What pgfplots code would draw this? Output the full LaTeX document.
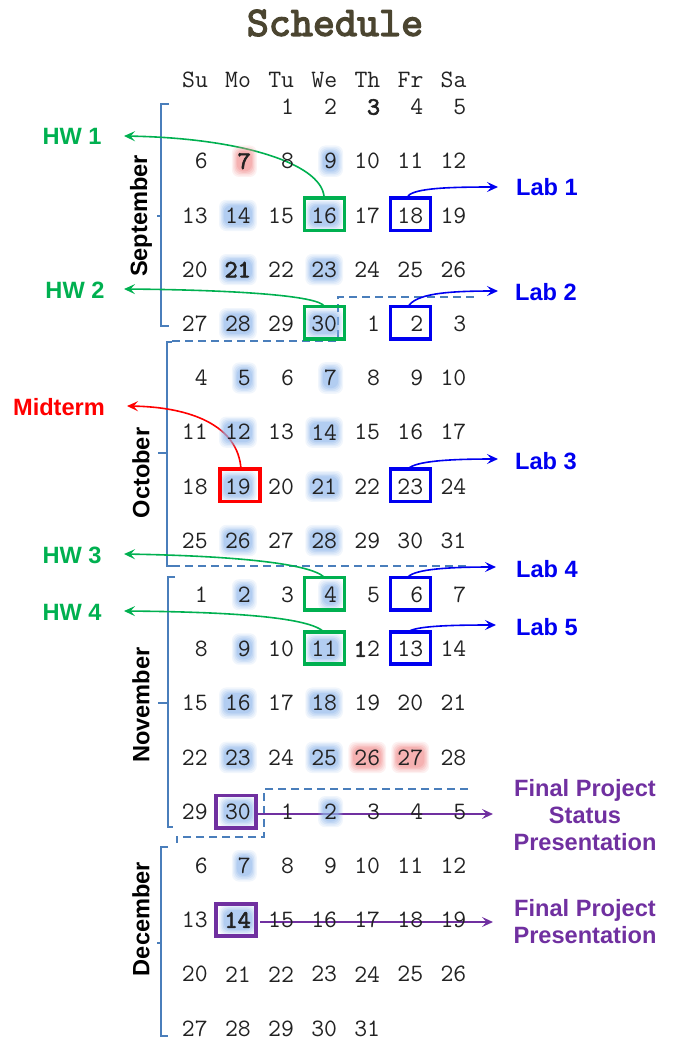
\documentclass[border=0pt]{standalone}
\usepackage{fontspec}
\setsansfont{Liberation Sans}
\newfontfamily\monobold{lmmono10-regular.otf}[FakeBold=2.6]
\newfontfamily\monotitle{lmmono10-regular.otf}[FakeBold=3.2]
\usepackage{pgfplots}
\pgfplotsset{compat=1.18}
\usepackage{pgfplotstable}
\usetikzlibrary{arrows.meta}

\definecolor{hlblue}{HTML}{8FB6EA}
\definecolor{hlred}{HTML}{F08E8E}
\definecolor{cgreen}{HTML}{00B050}
\definecolor{cblue}{HTML}{0000F0}
\definecolor{cred}{HTML}{FF0000}
\definecolor{cpurple}{HTML}{7030A0}
\definecolor{bracecol}{HTML}{4A7EBB}
\definecolor{titlecol}{HTML}{4B4530}
\definecolor{numcol}{HTML}{222222}

\newcommand\numfont{\fontsize{12.5}{14}\selectfont\ttfamily}
\newcommand\numboldfont{\fontsize{12.5}{14}\selectfont\monobold}
\newcommand\labfont{\fontsize{11.8}{13.5}\selectfont\sffamily\bfseries}

% days in normal weight: row, column (0=Su), day
\pgfplotstableread{
r c d
0 2 1
0 3 2
0 5 4
0 6 5
1 0 6
1 2 8
1 3 9
1 4 10
1 5 11
1 6 12
2 0 13
2 1 14
2 2 15
2 3 16
2 4 17
2 5 18
2 6 19
3 0 20
3 2 22
3 3 23
3 4 24
3 5 25
3 6 26
4 0 27
4 1 28
4 2 29
4 3 30
4 4 1
4 5 2
4 6 3
5 0 4
5 1 5
5 2 6
5 3 7
5 4 8
5 5 9
5 6 10
6 0 11
6 1 12
6 2 13
6 3 14
6 4 15
6 5 16
6 6 17
7 0 18
7 1 19
7 2 20
7 3 21
7 4 22
7 5 23
7 6 24
8 0 25
8 1 26
8 2 27
8 3 28
8 4 29
8 5 30
8 6 31
9 0 1
9 1 2
9 2 3
9 3 4
9 4 5
9 5 6
9 6 7
10 0 8
10 1 9
10 2 10
10 3 11
10 4 2
10 5 13
10 6 14
11 0 15
11 1 16
11 2 17
11 3 18
11 4 19
11 5 20
11 6 21
12 0 22
12 1 23
12 2 24
12 3 25
12 4 26
12 5 27
12 6 28
13 0 29
13 1 30
13 2 1
13 3 2
13 4 3
13 5 4
13 6 5
14 0 6
14 1 7
14 2 8
14 3 9
14 4 10
14 5 11
14 6 12
15 0 13
15 2 15
15 3 16
15 4 17
15 5 18
15 6 19
16 0 20
16 1 21
16 2 22
16 3 23
16 4 24
16 5 25
16 6 26
17 0 27
17 1 28
17 2 29
17 3 30
17 4 31
}\daysnormal

% days in bold
\pgfplotstableread{
r c d
0 4 3
1 1 7
3 1 21
10 3.6955 1
15 1 14
}\daysbold

% blue highlighted days
\pgfplotstableread{
r c d
1 3 9
2 1 14
2 3 16
3 1 21
3 3 23
4 1 28
4 3 30
5 1 5
5 3 7
6 1 12
6 3 14
7 1 19
7 3 21
8 1 26
8 3 28
9 1 2
9 3 4
10 1 9
10 3 11
11 1 16
11 3 18
12 1 23
12 3 25
13 1 30
13 3 2
14 1 7
15 1 14
}\hlb

% red highlighted days
\pgfplotstableread{
r c d
1 1 7
12 4 26
12 5 27
}\hlr

% boxed days
\pgfplotstableread{
r c
2 3
4 3
9 3
10 3
}\boxgreen
\pgfplotstableread{
r c
2 5
4 5
7 5
9 5
10 5
}\boxblue
\pgfplotstableread{
r c
7 1
}\boxred
\pgfplotstableread{
r c
13 1
15 1
}\boxpurple

\pgfplotsset{
  daytext/.style={only marks, mark=none, point meta=explicit symbolic,
    nodes near coords,
    every node near coord/.append style={anchor=east, inner sep=0pt, text=numcol, font=#1}},
  glow/.style n args={4}{only marks, mark=none, point meta=explicit symbolic,
    nodes near coords={\phantom{\pgfplotspointmeta}},
    every node near coord/.append style={anchor=east, font=\numfont, fill=#1, draw=none,
      fill opacity=#4, inner xsep=#2, inner ysep=#3, xshift=#2, rounded corners=3.5pt}},
  dbox/.style={only marks, mark=none, point meta=explicit symbolic,
    nodes near coords={},
    every node near coord/.append style={anchor=center, draw=#1, line width=1.75pt,
      minimum width=20pt, minimum height=16.2pt, inner sep=0pt, fill=none}},
  table/daycs/.style={x expr={195+43.1*\thisrow{c}+13.1}, y expr={107+54.2*\thisrow{r}}, meta=d},
}

\begin{document}
\begin{tikzpicture}
\begin{axis}[
  scale only axis, width=337.5pt, height=520pt,
  xmin=0, xmax=675, ymin=0, ymax=1040, y dir=reverse,
  hide axis, clip=false,
]
\path (0,0) rectangle (675,1040);

% soft glows behind highlighted days
\addplot[glow={hlblue}{3pt}{3.9pt}{0.12}] table[daycs]{\hlb};
\addplot[glow={hlblue}{2.4pt}{3.2pt}{0.15}] table[daycs]{\hlb};
\addplot[glow={hlblue}{1.8pt}{2.5pt}{0.2}] table[daycs]{\hlb};
\addplot[glow={hlblue}{1.2pt}{1.8pt}{0.25}] table[daycs]{\hlb};
\addplot[glow={hlblue}{0.6pt}{1.1pt}{0.3}] table[daycs]{\hlb};
\addplot[glow={hlred}{3pt}{3.9pt}{0.12}] table[daycs]{\hlr};
\addplot[glow={hlred}{2.4pt}{3.2pt}{0.15}] table[daycs]{\hlr};
\addplot[glow={hlred}{1.8pt}{2.5pt}{0.2}] table[daycs]{\hlr};
\addplot[glow={hlred}{1.2pt}{1.8pt}{0.25}] table[daycs]{\hlr};
\addplot[glow={hlred}{0.6pt}{1.1pt}{0.3}] table[daycs]{\hlr};

% day numbers
\addplot[daytext=\numfont] table[daycs]{\daysnormal};
\addplot[daytext=\numboldfont] table[daycs]{\daysbold};

% weekday header
\foreach \i/\w in {0/Su,1/Mo,2/Tu,3/We,4/Th,5/Fr,6/Sa}{
  \edef\tmp{\noexpand\node[font=\noexpand\numfont, text=numcol] at (195+43.1*\i,80) {\w};}\tmp
}

% title
\node[font=\fontsize{21}{24}\selectfont\monotitle, text=titlecol] at (335,23) {Schedule};

% braces and separators
\begin{scope}[bracecol, line width=0.9pt]
\draw (169,104) -- (161,104) -- (161,326) -- (169,326);
\draw (161,216) -- (157,216);
\draw (172,342) -- (167,342) -- (167,566) -- (172,566);
\draw (167,453) -- (158,453);
\draw (175,577) -- (168,577) -- (168,827) -- (173,827);
\draw (168,703) -- (158,703);
\draw (168,847) -- (161,847) -- (161,1036) -- (168,1036);
\draw (161,943) -- (157,943);
\draw[dash pattern=on 4pt off 2.5pt] (172,341) -- (338,341) -- (338,297) -- (474,297);
\draw[dash pattern=on 4pt off 2.5pt] (172,566) -- (468,566);
\draw[dash pattern=on 4pt off 2.5pt] (468,789) -- (264,789) -- (264,837) -- (177,837) -- (177,843);
\end{scope}

% boxes
\addplot[dbox=cgreen] table[x expr={195+43.1*\thisrow{c}}, y expr={107+54.2*\thisrow{r}-1}, meta=c]{\boxgreen};
\addplot[dbox=cblue] table[x expr={195+43.1*\thisrow{c}}, y expr={107+54.2*\thisrow{r}-1}, meta=c]{\boxblue};
\addplot[dbox=cred] table[x expr={195+43.1*\thisrow{c}+2}, y expr={107+54.2*\thisrow{r}-1}, meta=c]{\boxred};
\addplot[dbox=cpurple] table[x expr={195+43.1*\thisrow{c}-2}, y expr={107+54.2*\thisrow{r}}, meta=c]{\boxpurple};

% month labels
\node[rotate=90, font=\labfont, text=black] at (141,216) {September};
\node[rotate=90, font=\labfont, text=black] at (141,473) {October};
\node[rotate=90, font=\labfont, text=black] at (141,705) {November};
\node[rotate=90, font=\labfont, text=black] at (141,919) {December};

% arrows
\tikzset{arr/.style={line width=0.8pt, -{Stealth[length=5.5pt, width=5pt, inset=2.2pt]}}}
\draw[arr, cgreen] (324,196) .. controls (320,163) and (240,138) .. (124,136);
\draw[arr, cgreen] (324,306) .. controls (318,296) and (240,290) .. (124,289);
\draw[arr, cgreen] (324,577) .. controls (310,564) and (240,556) .. (124,554);
\draw[arr, cgreen] (324,632) .. controls (310,618) and (240,612) .. (124,611);
\draw[arr, cred] (241,469) .. controls (238,425) and (190,407) .. (127,406);
\draw[arr, cblue] (408,196) .. controls (415,188) and (450,187) .. (498,187);
\draw[arr, cblue] (408,307) .. controls (415,294) and (445,291) .. (498,291);
\draw[arr, cblue] (408,469) .. controls (415,461) and (450,459) .. (498,459);
\draw[arr, cblue] (408,577) .. controls (415,569) and (450,567) .. (496,567);
\draw[arr, cblue] (408,632) .. controls (415,626) and (450,625) .. (496,625);
\draw[arr, cpurple] (258,814) -- (493,814);
\draw[arr, cpurple] (260,922) -- (493,922);

% annotation labels
\node[font=\labfont, text=cgreen] at (72,136) {HW 1};
\node[font=\labfont, text=cgreen] at (75,290) {HW 2};
\node[font=\labfont, text=cgreen] at (72,555) {HW 3};
\node[font=\labfont, text=cgreen] at (72,612) {HW 4};
\node[font=\labfont, text=cred] at (59,407) {Midterm};
\node[font=\labfont, text=cblue] at (547,187) {Lab 1};
\node[font=\labfont, text=cblue] at (546,292) {Lab 2};
\node[font=\labfont, text=cblue] at (546,461) {Lab 3};
\node[font=\labfont, text=cblue] at (547,569) {Lab 4};
\node[font=\labfont, text=cblue] at (547,627) {Lab 5};
\node[font=\labfont, text=cpurple, align=center] at (585,815) {Final Project\\Status\\Presentation};
\node[font=\labfont, text=cpurple, align=center] at (585,922) {Final Project\\Presentation};
\end{axis}
\end{tikzpicture}
\end{document}
